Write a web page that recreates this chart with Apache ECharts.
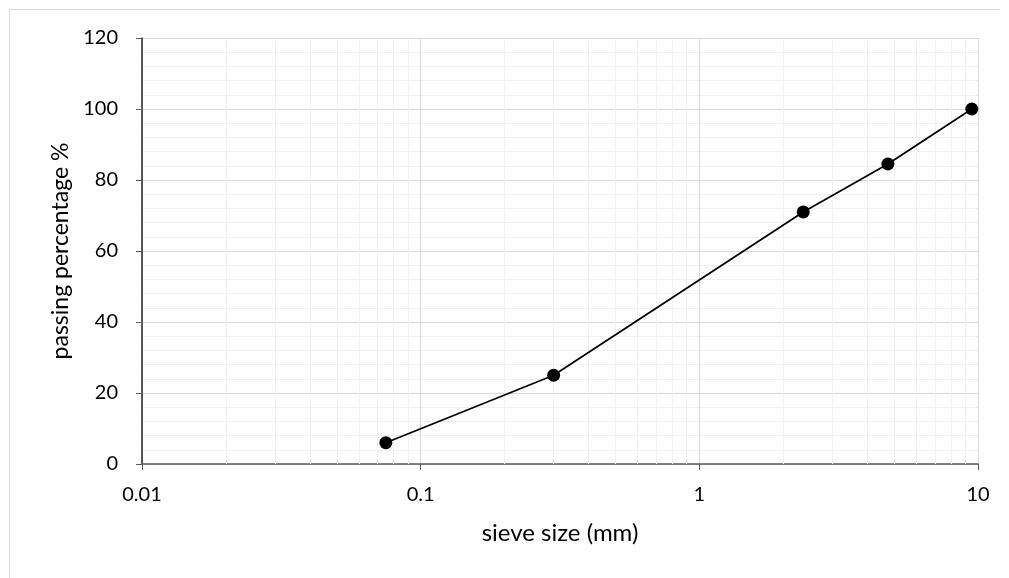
<!DOCTYPE html>
<html>
<head>
<meta charset="utf-8">
<script src="https://cdn.jsdelivr.net/npm/echarts@6/dist/echarts.min.js"></script>
<style>
  html, body { margin: 0; padding: 0; background: #fff; }
  #container { width: 1009px; height: 578px; }
</style>
</head>
<body>
<div id="container"></div>
<script>
var sieveSize = [0.075, 0.3, 2.36, 4.75, 9.5];
var passing = [6, 25, 71, 84.5, 100];
// minor vertical grid lines, 2..9 within each decade
var minorX = [0.02, 0.03, 0.04, 0.05, 0.06, 0.07, 0.08, 0.09,
  0.2, 0.3, 0.4, 0.5, 0.6, 0.7, 0.8, 0.9,
  2, 3, 4, 5, 6, 7, 8, 9];

var dom = document.getElementById("container");
var myChart = echarts.init(dom);
var font = "Lato, 'Liberation Sans', sans-serif";

var option = {
  backgroundColor: "#fff",
  animation: false,
  graphic: [
    {
      type: "polyline",
      silent: true,
      shape: { points: [[9.5, 578], [9.5, 9.5], [1000, 9.5]] },
      style: { stroke: "#d9d9d9", lineWidth: 1, fill: null },
    },
  ],
  grid: {
    left: 142,
    right: 31,
    top: 38,
    bottom: 114,
  },
  xAxis: {
    type: "log",
    logBase: 10,
    min: 0.01,
    max: 10,
    name: "sieve size (mm)",
    nameLocation: "middle",
    nameGap: 57,
    nameTextStyle: { fontFamily: font, fontSize: 24, color: "#000" },
    axisLine: { onZero: false, lineStyle: { color: "#595959", width: 1.5 } },
    axisTick: { show: true, length: 6, lineStyle: { color: "#595959" } },
    axisLabel: {
      fontFamily: font,
      fontSize: 20,
      color: "#000",
      margin: 21,
      formatter: function (v) {
        return String(+v.toPrecision(3));
      },
    },
    splitLine: { show: true, lineStyle: { color: "#d9d9d9", width: 1 } },
  },
  yAxis: {
    type: "value",
    min: 0,
    max: 120,
    interval: 20,
    name: "passing percentage %",
    nameLocation: "middle",
    nameGap: 68,
    nameTextStyle: { fontFamily: font, fontSize: 23, color: "#000" },
    axisLine: { show: true, lineStyle: { color: "#262626", width: 1.5 } },
    axisTick: { show: true, length: 6, lineStyle: { color: "#595959" } },
    axisLabel: { fontFamily: font, fontSize: 20, color: "#000", margin: 24 },
    splitLine: { show: true, lineStyle: { color: "#d9d9d9", width: 1 } },
    minorTick: { show: false, splitNumber: 5 },
    minorSplitLine: { show: true, lineStyle: { color: "#f0f0f0", width: 1 } },
  },
  series: [
    {
      type: "line",
      silent: true,
      data: [],
      z: 1,
      markLine: {
        silent: true,
        symbol: "none",
        label: { show: false },
        lineStyle: { color: "#f0f0f0", width: 1, type: "solid" },
        data: minorX.map(function (v) {
          return { xAxis: v };
        }),
      },
    },
    {
      type: "line",
      data: sieveSize.map(function (s, i) {
        return [s, passing[i]];
      }),
      symbol: "circle",
      symbolSize: 13,
      itemStyle: { color: "#000" },
      lineStyle: { color: "#000", width: 1.75 },
      z: 5,
    },
  ],
};

myChart.setOption(option);
</script>
</body>
</html>
